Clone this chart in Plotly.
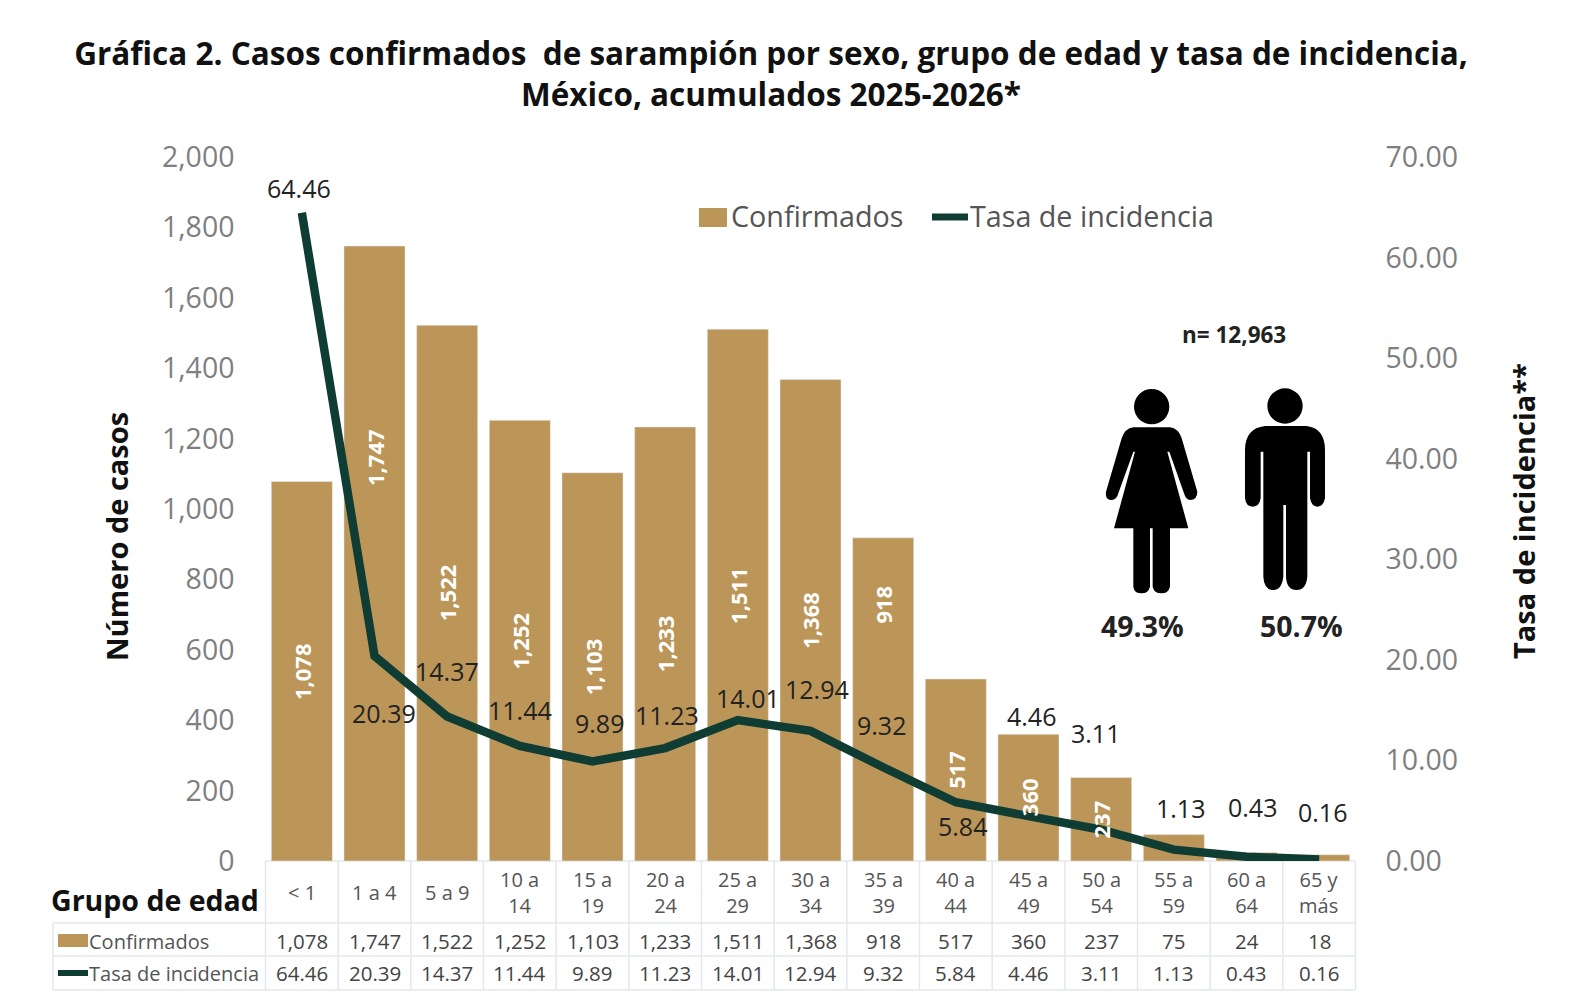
import plotly.graph_objects as go

CATEGORIES = ["< 1", "1 a 4", "5 a 9", "10 a<br>14", "15 a<br>19", "20 a<br>24", "25 a<br>29", "30 a<br>34",
              "35 a<br>39", "40 a<br>44", "45 a<br>49", "50 a<br>54", "55 a<br>59", "60 a<br>64", "65 y<br>más"]
CONFIRMADOS = [1078, 1747, 1522, 1252, 1103, 1233, 1511, 1368, 918, 517, 360, 237, 75, 24, 18]
TASA = [64.46, 20.39, 14.37, 11.44, 9.89, 11.23, 14.01, 12.94, 9.32, 5.84, 4.46, 3.11, 1.13, 0.43, 0.16]
LABEL_SHIFT_X = [-3, 9, 0, 0, 7, 2, 10, 6, -2, 7, 3, -6, 7, 6, 3]
LABEL_SHIFT_Y = [25, -57, 45, 36, 39, 33, 22, 42, 42, -24, 100, 97, 42, 50, 47]
BAR_LABEL_SHIFT_Y = [0, 96, 0, 0, 0, 0, 0, 0, 95, 0, 0, 0]

W, H = 1572, 1000
FONT = "Open Sans"
BAR = "#BC9658"
LINE = "#0F3D33"
GRAY = "#7F7F7F"
DARK = "#222222"
TBL = "#E4E8EC"
L, R, T, B = 265.5, 1355.5, 157, 861
px = lambda x: x / W
py = lambda y: 1 - y / H

fig = go.Figure()
fig.add_bar(x=list(range(15)), y=CONFIRMADOS, name="Confirmados", marker_color=BAR, width=0.84,
            hoverinfo="skip", showlegend=False)
fig.add_scatter(x=list(range(15)), y=TASA, name="Tasa de incidencia", mode="lines", yaxis="y2",
                line=dict(color=LINE, width=8.5), hoverinfo="skip", showlegend=False)

ann, shapes = [], []


def text(x, y, s, size, color=DARK, bold=False, angle=0, anchor="center", xref="paper"):
    ann.append(dict(x=x if xref != "paper" else px(x), y=py(y), xref=xref, yref="paper", text=s, showarrow=False,
                    textangle=angle, xanchor=anchor, yanchor="middle", align="center",
                    font=dict(family=FONT, size=size, color=color, weight="bold" if bold else "normal")))


def line(x0, y0, x1, y1, color=TBL, width=1.5):
    shapes.append(dict(type="line", xref="paper", yref="paper", x0=px(x0), y0=py(y0), x1=px(x1), y1=py(y1),
                       line=dict(color=color, width=width), layer="below"))


text(116, 536, "Número de casos", 29, "#111111", True, -90)
text(1523, 511, "Tasa de incidencia**", 29, "#111111", True, -90)
text(1234, 335, "n= 12,963", 22.5, DARK, True)
text(1142, 626, "49.3%", 28.5, DARK, True)
text(1301, 626, "50.7%", 28.5, DARK, True)
text(155, 900, "Grupo de edad", 28.5, "#111111", True)
text(87, 941, "Confirmados", 20, "#555555", anchor="left")
text(87, 973, "Tasa de incidencia", 20, "#555555", anchor="left")

# chart legend
shapes.append(dict(type="rect", xref="paper", yref="paper", x0=px(699), x1=px(727), y0=py(227), y1=py(208),
                   fillcolor=BAR, line_width=0))
shapes.append(dict(type="line", xref="paper", yref="paper", x0=px(932), x1=px(968), y0=py(217), y1=py(217),
                   line=dict(color=LINE, width=7)))
text(729, 216, "Confirmados", 28.7, "#555555", anchor="left")
text(968, 216, "Tasa de incidencia", 28.7, "#555555", anchor="left")

# bar value labels
for i, v in enumerate(CONFIRMADOS[:12]):
    ann.append(dict(x=i, y=v / 2, xref="x", yref="y", text=f"{v:,}", showarrow=False, textangle=-90,
                    yshift=BAR_LABEL_SHIFT_Y[i], font=dict(family=FONT, size=22, color="white", weight="bold")))

# line value labels
for i, v in enumerate(TASA):
    ann.append(dict(x=i, y=v, xref="x", yref="y2", text=f"{v:.2f}", showarrow=False,
                    xshift=LABEL_SHIFT_X[i], yshift=LABEL_SHIFT_Y[i],
                    font=dict(family=FONT, size=25, color=DARK)))

# table
ROWS = [861, 923, 956, 990]
step = (R - L) / 15
for i in range(16):
    line(L + i * step, ROWS[0], L + i * step, ROWS[3])
for y in ROWS[1:]:
    line(53, y, R, y)
line(L, ROWS[0], R, ROWS[0])
line(53, ROWS[1], 53, ROWS[3])
for i in range(15):
    text(i, 892, CATEGORIES[i], 20, "#555555", xref="x")
    text(i, 941, f"{CONFIRMADOS[i]:,}", 20.5, "#444444", xref="x")
    text(i, 973, f"{TASA[i]:.2f}", 20.5, "#444444", xref="x")
shapes.append(dict(type="rect", xref="paper", yref="paper", x0=px(58), x1=px(88), y0=py(947), y1=py(934),
                   fillcolor=BAR, line_width=0))
shapes.append(dict(type="line", xref="paper", yref="paper", x0=px(58), x1=px(88), y0=py(973), y1=py(973),
                   line=dict(color=LINE, width=6)))


# pictograms (coordinates measured from a 3x crop with origin at 1080,310)
def pic(points):
    res, idx = [], 0
    for tok in points.split():
        if tok.isalpha():
            res.append(tok)
        else:
            v = float(tok)
            res.append(f"{px(1080 + v / 3):.5f}" if idx % 2 == 0 else f"{py(310 + v / 3):.5f}")
            idx += 1
    return " ".join(res)


WOMAN = ("M 160 352 L 270 352 Q 295 355 305 385 L 352 545 Q 352 570 330 570 Q 318 570 312 550 L 268 425 L 262 425 "
         "L 325 655 L 270 655 L 270 830 Q 265 850 245 850 Q 222 850 218 830 L 218 655 L 210 655 L 210 830 "
         "Q 205 850 185 850 Q 162 850 160 830 L 160 655 L 102 655 L 165 425 L 160 425 L 115 550 Q 110 570 95 570 "
         "Q 75 570 78 545 L 125 385 Q 135 355 160 352 Z")
MAN = ("M 555 348 L 680 348 Q 735 355 735 420 L 735 565 Q 730 590 712 590 Q 695 590 690 565 L 690 425 L 682 425 "
       "L 682 800 Q 678 840 650 840 Q 620 840 618 800 L 618 585 L 610 585 L 610 800 Q 605 840 580 840 "
       "Q 552 840 550 800 L 550 425 L 542 425 L 542 565 Q 538 590 518 590 Q 498 590 495 565 L 495 420 "
       "Q 495 355 555 348 Z")
for p in (WOMAN, MAN):
    shapes.append(dict(type="path", xref="paper", yref="paper", path=pic(p), fillcolor="black", line_width=0))
for cx, cy, r in ((215, 290, 53), (615, 288, 53)):
    shapes.append(dict(type="circle", xref="paper", yref="paper", fillcolor="black", line_width=0,
                       x0=px(1080 + (cx - r) / 3), x1=px(1080 + (cx + r) / 3),
                       y0=py(310 + (cy + r) / 3), y1=py(310 + (cy - r) / 3)))

tickfont = dict(family=FONT, size=28.5, color=GRAY)
fig.update_layout(
    width=W, height=H, autosize=False, margin=dict(l=0, r=0, t=0, b=0, pad=0, autoexpand=False),
    paper_bgcolor="white", plot_bgcolor="white", annotations=ann, shapes=shapes, showlegend=False,
    title=dict(text="Gráfica 2. Casos confirmados  de sarampión por sexo, grupo de edad y tasa de incidencia,<br>"
                    "México, acumulados 2025-2026*",
               x=px(771), xanchor="center", y=py(65), yanchor="middle", xref="paper", yref="paper",
               font=dict(family=FONT, size=31.5, color="#111111", weight="bold")),
    xaxis=dict(domain=[px(L), px(R)], range=[-0.5, 14.5], showticklabels=False, showline=False, showgrid=False,
               zeroline=False, ticks=""),
    yaxis=dict(domain=[py(B), py(T)], range=[0, 2000], dtick=200, tickformat=",d", tickfont=tickfont,
               showgrid=False, zeroline=False, showline=False, ticks="", ticklabelstandoff=30),
    yaxis2=dict(overlaying="y", side="right", range=[0, 70], dtick=10, tickformat=".2f", tickfont=tickfont,
                showgrid=False, zeroline=False, showline=False, ticks="", ticklabelstandoff=29),
)
fig.write_html("out.html", config=dict(displayModeBar=False),
               post_script="document.body.style.margin='0';")
